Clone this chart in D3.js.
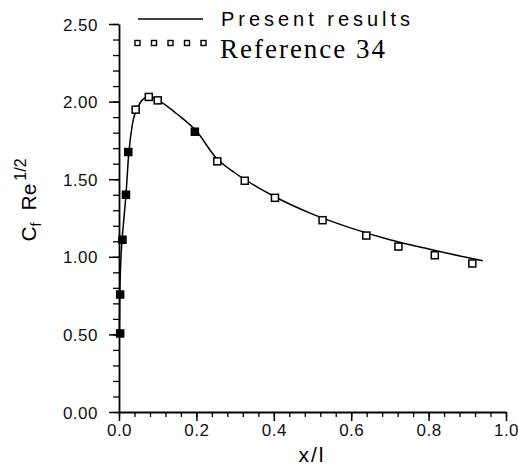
<!DOCTYPE html>
<html>
<head>
<meta charset="utf-8">
<script src="https://cdn.jsdelivr.net/npm/d3@7"></script>
<style>
body { margin: 0; background: #fff; }
svg { display: block; }
</style>
</head>
<body>
<div id="chart"></div>
<script>
var width = 518,
height = 468;

// present results (solid line)
var lineX = [0.001, 0.002, 0.004, 0.007, 0.011, 0.018, 0.025, 0.035, 0.05, 0.065, 0.08, 0.1, 0.15, 0.2, 0.25, 0.3, 0.35, 0.4, 0.5, 0.6, 0.7, 0.8, 0.9, 0.94];
var lineY = [0.50, 0.75, 0.93, 1.08, 1.20, 1.40, 1.66, 1.86, 1.97, 2.02, 2.03, 2.01, 1.92, 1.81, 1.64, 1.54, 1.46, 1.39, 1.275, 1.185, 1.11, 1.05, 0.995, 0.975];

// reference 34 (squares)
var refX = [0.003, 0.003, 0.009, 0.018, 0.024, 0.043, 0.077, 0.10, 0.196, 0.254, 0.325, 0.403, 0.526, 0.639, 0.722, 0.816, 0.913];
var refY = [0.506, 0.757, 1.11, 1.40, 1.675, 1.948, 2.03, 2.008, 1.806, 1.615, 1.49, 1.38, 1.236, 1.137, 1.066, 1.01, 0.957];

var xTicks = [0, 0.2, 0.4, 0.6, 0.8, 1.0];
var yTicks = [0, 0.5, 1.0, 1.5, 2.0, 2.5];
var legendLabels = ["Present results", "Reference 34"];

var x = d3.scaleLinear().domain([0, 1]).range([119, 506]);
var y = d3.scaleLinear().domain([0, 2.5]).range([412, 24]);

var svg = d3.select("#chart").append("svg")
  .attr("width", width)
  .attr("height", height);

// minor ticks
var xMinor = d3.range(0, 1.0001, 0.04).map(function(d){ return +d.toFixed(2); });
var yMinor = d3.range(0, 2.5001, 0.1).map(function(d){ return +d.toFixed(1); });

svg.append("g")
  .attr("transform", "translate(0," + y(0) + ")")
  .call(d3.axisBottom(x).tickValues(xMinor).tickSize(5).tickFormat(""))
  .call(function(g){ g.select(".domain").remove(); })
  .selectAll("line").attr("stroke-width", 1.3);

svg.append("g")
  .attr("transform", "translate(" + x(0) + ",0)")
  .call(d3.axisLeft(y).tickValues(yMinor).tickSize(6).tickFormat(""))
  .call(function(g){ g.select(".domain").remove(); })
  .selectAll("line").attr("stroke-width", 1.3);

var xAxis = svg.append("g")
  .attr("transform", "translate(0," + y(0) + ")")
  .call(d3.axisBottom(x).tickValues(xTicks).tickSize(9).tickSizeOuter(0).tickPadding(3)
    .tickFormat(d3.format(".1f")));

var yAxis = svg.append("g")
  .attr("transform", "translate(" + x(0) + ",0)")
  .call(d3.axisLeft(y).tickValues(yTicks).tickSize(10).tickSizeOuter(0).tickPadding(11)
    .tickFormat(d3.format(".2f")));

[xAxis, yAxis].forEach(function(g){
  g.select(".domain").attr("stroke-width", 1.8);
  g.selectAll("line").attr("stroke-width", 1.5);
  g.selectAll("text")
    .style("font-family", "'Liberation Sans', Arial, sans-serif")
    .style("font-size", "17px")
    .style("letter-spacing", "0.5px")
    .attr("fill", "#111");
});
yAxis.selectAll("text").attr("dy", "0.36em");

// curve
var line = d3.line()
  .x(function(d){ return x(d[0]); })
  .y(function(d){ return y(d[1]); })
  .curve(d3.curveMonotoneX);

svg.append("path")
  .datum(lineX.map(function(v, i){ return [v, lineY[i]]; }))
  .attr("d", line)
  .attr("fill", "none")
  .attr("stroke", "#000")
  .attr("stroke-width", 1.5);

// squares
var s = 7;
svg.selectAll("rect.ref")
  .data(refX.map(function(v, i){ return [v, refY[i]]; }))
  .enter().append("rect")
  .attr("class", "ref")
  .attr("x", function(d){ return x(d[0]) - s / 2; })
  .attr("y", function(d){ return y(d[1]) - s / 2; })
  .attr("width", s)
  .attr("height", s)
  .attr("fill", function(d, i){ return (i < 5 || i == 8) ? "#000" : "#fff"; })
  .attr("stroke", "#000")
  .attr("stroke-width", 1.5);

// legend
var leg = svg.append("g");
leg.append("line")
  .attr("x1", 138).attr("x2", 203)
  .attr("y1", 19).attr("y2", 19)
  .attr("stroke", "#000").attr("stroke-width", 1.5);
leg.append("text")
  .attr("x", 221).attr("y", 26)
  .attr("textLength", 189)
  .style("font-family", "'Liberation Sans', Arial, sans-serif")
  .style("font-size", "20px")
  .text(legendLabels[0]);

leg.selectAll("rect")
  .data(d3.range(5))
  .enter().append("rect")
  .attr("x", function(d){ return 135 + d * 16.5; })
  .attr("y", 40.5)
  .attr("width", 5).attr("height", 5)
  .attr("fill", "#fff").attr("stroke", "#000").attr("stroke-width", 1.4);
leg.append("text")
  .attr("x", 220).attr("y", 58)
  .attr("textLength", 165)
  .style("font-family", "'Liberation Serif', 'Times New Roman', serif")
  .style("font-size", "27px")
  .text(legendLabels[1]);

// axis titles
svg.append("text")
  .attr("x", 312).attr("y", 462)
  .attr("text-anchor", "middle")
  .style("font-family", "'Liberation Sans', Arial, sans-serif")
  .style("font-size", "21px")
  .style("letter-spacing", "2px")
  .text("x/l");

var yt = svg.append("text")
  .attr("transform", "translate(36,200) rotate(-90)")
  .attr("text-anchor", "middle")
  .style("font-family", "'Liberation Sans', Arial, sans-serif")
  .style("font-size", "21px");
yt.append("tspan").text("C");
yt.append("tspan").attr("dy", 5).style("font-size", "14px").text("f");
yt.append("tspan").attr("dy", -5).attr("dx", 12).text("Re");
yt.append("tspan").attr("dy", -10).attr("dx", 3).style("font-size", "16px").text("1/2");
</script>
</body>
</html>
